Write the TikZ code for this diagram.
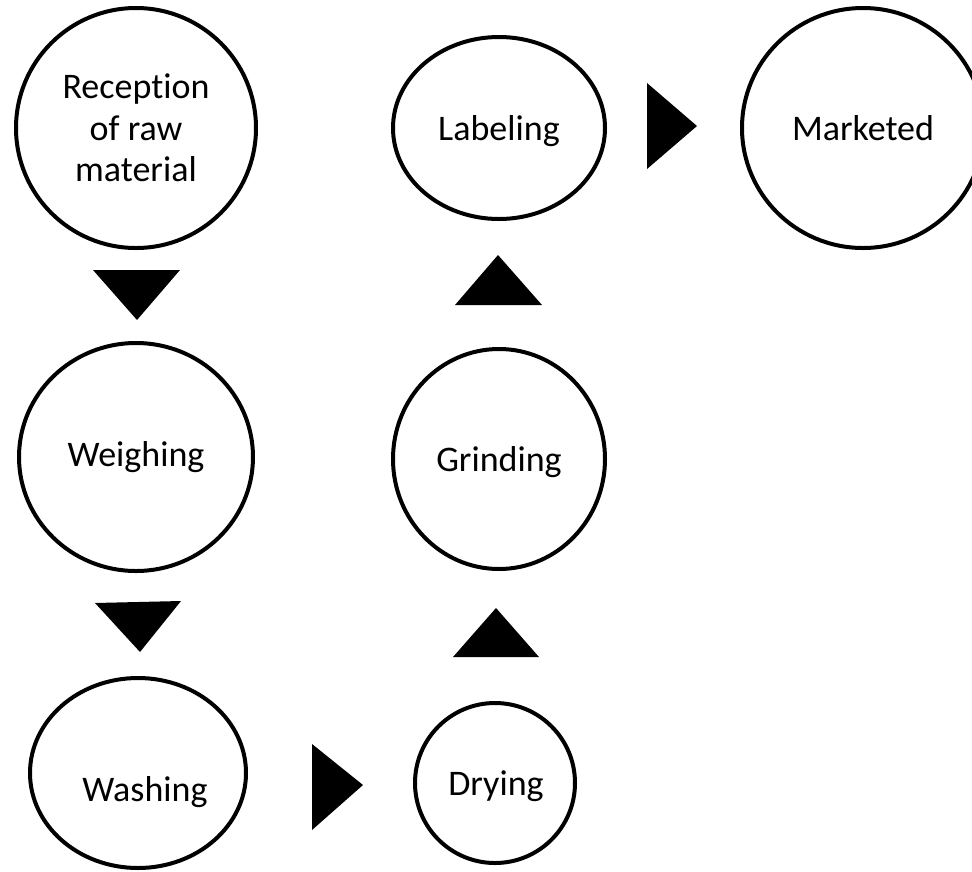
\documentclass[tikz,border=0pt]{standalone}
\usepackage{fontspec}
\setmainfont{Carlito}[Ligatures=NoCommon]
\usetikzlibrary{shapes.geometric}
\begin{document}
\begin{tikzpicture}[x=1pt,y=-1pt,
  stage/.style={draw=black, line width=4pt, ellipse, inner sep=0pt, fill=white,
    font=\fontsize{36}{41.5}\selectfont, align=center},
  lbl/.style={inner sep=0pt, font=\fontsize{36}{41.5}\selectfont},
  arrowtri/.style={fill=black}]
\useasboundingbox[fill=white] (0,0) rectangle (972,871);

% stages
\node[stage, minimum width=240pt, minimum height=240pt] (rec) at (136,128) {Reception\\of raw\\material};
\node[stage, minimum width=234pt, minimum height=228pt] (weigh) at (136,457) {Weighing};
\node[stage, minimum width=216pt, minimum height=190pt] (wash) at (138,773) {};
\node[lbl] (washt) at (145,792) {Washing};
\node[stage, minimum width=160pt, minimum height=160pt] (dry) at (495,783) {};
\node[lbl] (dryt) at (496,786) {Drying};
\node[stage, minimum width=212pt, minimum height=220pt, text depth=0pt] (grind) at (499,459) {Grinding};
\node[stage, minimum width=212pt, minimum height=182pt, text depth=0pt] (labl) at (499,128) {Labeling};
\node[stage, minimum width=242pt, minimum height=240pt] (mkt) at (863,128) {Marketed};

% arrow triangles
\fill[arrowtri] (93,270) -- (180,270) -- (137,320) -- cycle;
\fill[arrowtri] (95,603) -- (181,601) -- (140,652) -- cycle;
\fill[arrowtri] (312,744) -- (312,830) -- (363,785) -- cycle;
\fill[arrowtri] (453,657) -- (539,657) -- (496,608) -- cycle;
\fill[arrowtri] (455,305) -- (542,305) -- (498,255) -- cycle;
\fill[arrowtri] (647,83) -- (647,169) -- (697,126) -- cycle;
\end{tikzpicture}
\end{document}
